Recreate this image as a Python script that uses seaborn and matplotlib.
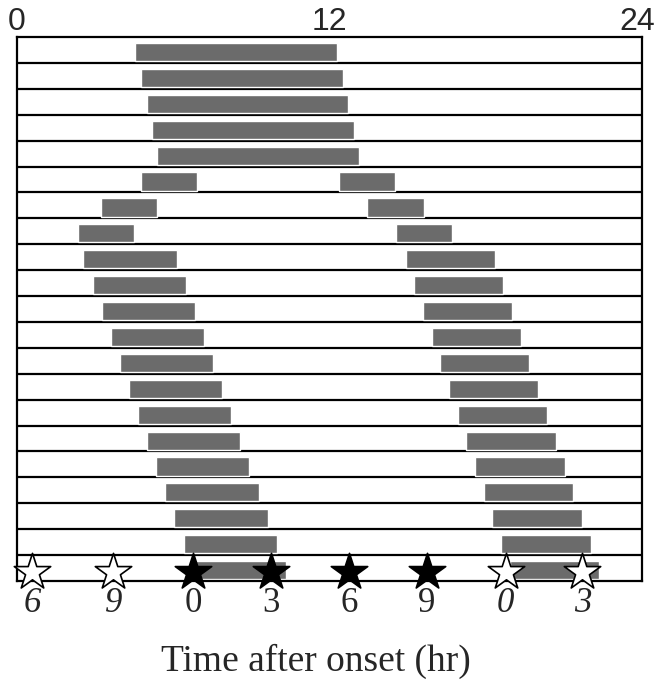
import numpy as np
import pandas as pd
import seaborn as sns
import matplotlib.pyplot as plt
from matplotlib.transforms import ScaledTranslation

# Dados (horas, 0-24)
nan = np.nan
inicio_esq = [4.55, 4.76, 4.98, 5.18, 5.39, 4.76, 3.23, 2.33, 2.55, 2.91, 3.25,
              3.61, 3.96, 4.30, 4.65, 4.99, 5.34, 5.70, 6.04, 6.40, 6.75]
fim_esq = [12.30, 12.50, 12.71, 12.93, 13.13, 6.90, 5.38, 4.51, 6.13, 6.48, 6.84,
           7.18, 7.53, 7.88, 8.23, 8.58, 8.92, 9.28, 9.63, 9.98, 10.33]
inicio_dir = [nan, nan, nan, nan, nan, 12.35, 13.44, 14.54, 14.93, 15.26, 15.59,
              15.92, 16.26, 16.59, 16.92, 17.26, 17.59, 17.92, 18.25, 18.59, 18.93]
fim_dir = [nan, nan, nan, nan, nan, 14.50, 15.62, 16.70, 18.34, 18.68, 19.02,
           19.35, 19.67, 20.02, 20.35, 20.69, 21.03, 21.36, 21.70, 22.03, 22.36]

estrela_horas = [0.57, 3.70, 6.77, 9.75, 12.75, 15.73, 18.77, 21.71]
estrela_rotulos = ['6', '9', '0', '3', '6', '9', '0', '3']
estrela_cheia = [False, False, True, True, True, True, False, False]

sns.set_style("white")

n = len(inicio_esq)
linhas = np.arange(n)

fig = plt.figure(figsize=(6.58, 6.80), dpi=100)
ax = fig.add_axes([0.0258, 0.1456, 0.9499, 0.8000])

# Linhas horizontais separando os dias
for i in range(1, n):
    ax.axhline(i, color='black', lw=1.6, zorder=1)

# Barras de atividade
cinza = '#6b6b6b'
ax.barh(linhas + 0.58, np.array(fim_esq) - np.array(inicio_esq), left=inicio_esq,
        height=0.7, color=cinza, zorder=2)
ax.barh(linhas + 0.58, np.array(fim_dir) - np.array(inicio_dir), left=inicio_dir,
        height=0.7, color=cinza, zorder=2)

# Estrelas na última linha
df_estrelas = pd.DataFrame({'hora': estrela_horas,
                            'y': [n - 0.33] * len(estrela_horas),
                            'cheia': estrela_cheia})
sns.scatterplot(data=df_estrelas[~df_estrelas['cheia']], x='hora', y='y', marker='*',
                s=760, color='white', edgecolor='black', linewidth=1.2, zorder=4,
                clip_on=False, ax=ax)
sns.scatterplot(data=df_estrelas[df_estrelas['cheia']], x='hora', y='y', marker='*',
                s=760, color='black', edgecolor='black', linewidth=1.2, zorder=4,
                clip_on=False, ax=ax)

ax.set_xlim(0, 24)
ax.set_ylim(n, 0)
ax.set_yticks([])
ax.xaxis.tick_top()
ax.set_xticks([0, 12, 24])
ax.set_xticklabels(['0', '12', '24'], fontsize=23, family='Liberation Sans')
ax.tick_params(axis='x', length=0, pad=0)
# "24" um pouco para a esquerda para caber na figura
rot24 = ax.get_xticklabels()[-1]
rot24.set_transform(rot24.get_transform() + ScaledTranslation(-0.05, 0, fig.dpi_scale_trans))
ax.set_xlabel('')
ax.set_ylabel('')
for s in ax.spines.values():
    s.set_color('black')
    s.set_linewidth(1.6)

# Rótulos das estrelas
for h, r, c in zip(estrela_horas, estrela_rotulos, estrela_cheia):
    ax.text(h, n + 0.85, r, ha='center', va='center', fontsize=25,
            family='Liberation Serif', style='normal' if c else 'italic',
            clip_on=False)

fig.text(0.48, 0.028, 'Time after onset (hr)', ha='center', va='center',
         fontsize=27, family='Liberation Serif')

fig.savefig('out.png', dpi=100)
